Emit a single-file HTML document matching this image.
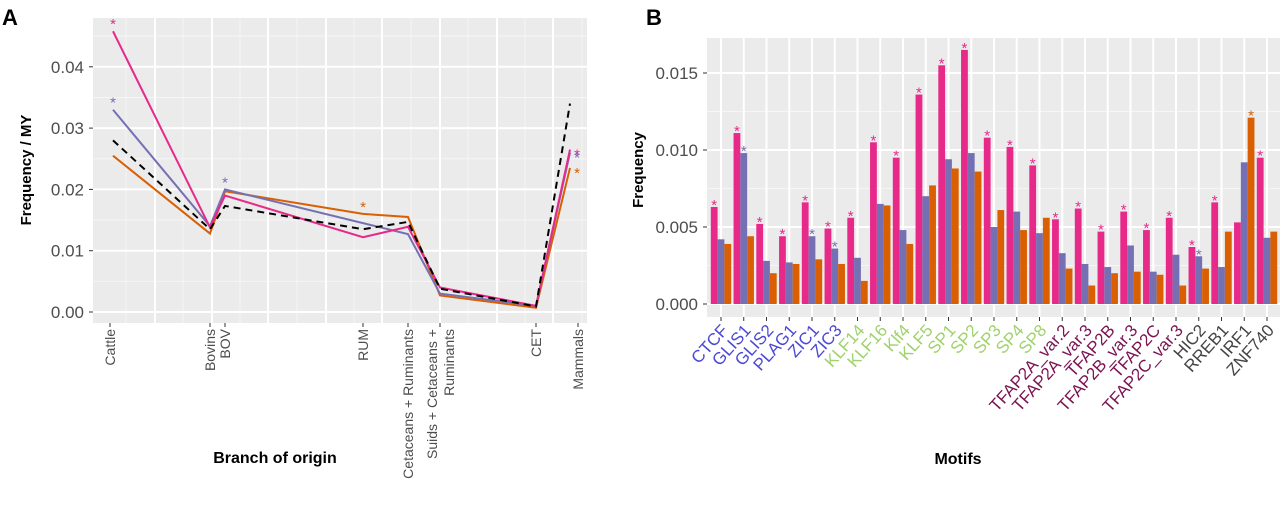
<!DOCTYPE html>
<html><head><meta charset="utf-8"><style>
body{margin:0;background:#fff;width:1280px;height:509px;overflow:hidden}
svg{display:block;font-family:"Liberation Sans",sans-serif}
</style></head><body>
<svg id="s" width="1280" height="509">
<text x="2" y="25" font-size="22" font-weight="bold">A</text>
<text x="646" y="25" font-size="22" font-weight="bold">B</text>
</svg>
<script>
// ---------- Panel A data ----------
const branches=["Cattle","Bovins","BOV","RUM","Cetaceans + Ruminants","Suids + Cetaceans + Ruminants","CET","Mammals"];
const pinkA=[0.0458,0.0138,0.0190,0.0122,0.0139,0.0040,0.0010,0.0265];
const blueA=[0.0330,0.0140,0.0200,0.0145,0.0127,0.0030,0.0010,0.0260];
const orangeA=[0.0255,0.0128,0.0197,0.0160,0.0155,0.0027,0.0007,0.0235];
const blackA=[0.0280,0.0135,0.0173,0.0135,0.0147,0.0038,0.0009,0.0340];
const yTicksA=[0,0.01,0.02,0.03,0.04];
const starsA=[{s:"pink",i:0},{s:"blue",i:0},{s:"blue",i:2},{s:"orange",i:3},{s:"pink",i:7},{s:"blue",i:7},{s:"orange",i:7}];
// ---------- Panel B data ----------
const motifs=["CTCF","GLIS1","GLIS2","PLAG1","ZIC1","ZIC3","KLF14","KLF16","Klf4","KLF5","SP1","SP2","SP3","SP4","SP8","TFAP2A_var.2","TFAP2A_var.3","TFAP2B","TFAP2B_var.3","TFAP2C","TFAP2C_var.3","HIC2","RREB1","IRF1","ZNF740"];
const pinkB=[0.0063,0.0111,0.0052,0.0044,0.0066,0.0049,0.0056,0.0105,0.0095,0.0136,0.0155,0.0165,0.0108,0.0102,0.0090,0.0055,0.0062,0.0047,0.0060,0.0048,0.0056,0.0037,0.0066,0.0053,0.0095];
const blueB=[0.0042,0.0098,0.0028,0.0027,0.0044,0.0036,0.0030,0.0065,0.0048,0.0070,0.0094,0.0098,0.0050,0.0060,0.0046,0.0033,0.0026,0.0024,0.0038,0.0021,0.0032,0.0031,0.0024,0.0092,0.0043];
const orangeB=[0.0039,0.0044,0.0020,0.0026,0.0029,0.0026,0.0015,0.0064,0.0039,0.0077,0.0088,0.0086,0.0061,0.0048,0.0056,0.0023,0.0012,0.0020,0.0021,0.0019,0.0012,0.0023,0.0047,0.0121,0.0047];
const pinkStarB=[1,1,1,1,1,1,1,1,1,1,1,1,1,1,1,1,1,1,1,1,1,1,1,0,1];
const blueStarB=[0,1,0,0,1,1,0,0,0,0,0,0,0,0,0,0,0,0,0,0,0,1,0,0,0];
const orangeStarB=[0,0,0,0,0,0,0,0,0,0,0,0,0,0,0,0,0,0,0,0,0,0,0,1,0];
const motifGroups=[0,0,0,0,0,0,1,1,1,1,1,1,1,1,1,2,2,2,2,2,2,3,3,3,3];
const yTicksB=[0,0.005,0.010,0.015];

const C={pink:"#e7298a",blue:"#7570b3",orange:"#d95f02"};
const groupCol=["#4b48d6","#9fd26a","#7b1352","#444444"];
const svg=document.getElementById('s');
const NS="http://www.w3.org/2000/svg";
function mk(tag,attrs,parent){const e=document.createElementNS(NS,tag);for(const k in attrs)e.setAttribute(k,attrs[k]);(parent||svg).appendChild(e);return e;}

// ===== Panel A =====
const aL=93,aR=587,aT=18,aB=323;
const bx=[113,210,225,363,408,440,536,570];
const btick=[110,210,225,363,408,440,536,578];
const ya=v=>312-v*6130;
const xa=i=>bx[i];
const gA=mk('g',{});


const bgA=mk('rect',{x:aL,y:aT,width:aR-aL,height:aB-aT,fill:"#ebebeb"},gA);


for(let v=0.005;v<0.05;v+=0.01){const y=ya(v);if(y>aT)mk('line',{x1:aL,x2:aR,y1:y,y2:y,stroke:"#f6f6f6","stroke-width":1},gA);}
[126,183,240,297,354,411,468,525,582].forEach(x=>mk('line',{x1:x,x2:x,y1:aT,y2:aB,stroke:"#f6f6f6","stroke-width":1},gA));
[155,212,268,326,382,440,497,553].forEach(x=>mk('line',{x1:x,x2:x,y1:aT,y2:aB,stroke:"#fff","stroke-width":2},gA));
yTicksA.forEach(v=>{const y=ya(v);
 mk('line',{x1:aL,x2:aR,y1:y,y2:y,stroke:"#fff","stroke-width":2},gA);
 mk('line',{x1:aL-4,x2:aL,y1:y,y2:y,stroke:"#333","stroke-width":1},gA);
 const t=mk('text',{x:aL-9,y:y+6,"text-anchor":"end","font-size":17,fill:"#4d4d4d"},gA);t.textContent=v.toFixed(2);
 
 
});
branches.forEach((b,i)=>{const x=btick[i];
 mk('line',{x1:x,x2:x,y1:aB,y2:aB+4,stroke:"#333"},gA);
 if(i===5){
  const t1=mk('text',{transform:`translate(${x-3},${aB+6}) rotate(-90)`,"text-anchor":"end","font-size":14,fill:"#4d4d4d"},gA);t1.textContent="Suids + Cetaceans +";
  
  
  const t2=mk('text',{transform:`translate(${x+14},${aB+6}) rotate(-90)`,"text-anchor":"end","font-size":14,fill:"#4d4d4d"},gA);t2.textContent="Ruminants";
  
  
 } else {
  const t=mk('text',{transform:`translate(${x+5},${aB+6}) rotate(-90)`,"text-anchor":"end","font-size":14,fill:"#4d4d4d"},gA);t.textContent=b;
  
  
 }
});
function line(arr,col,name,dash){const p=mk('polyline',{points:arr.map((v,i)=>xa(i)+","+ya(v)).join(" "),fill:"none",stroke:col,"stroke-width":2,"stroke-dasharray":dash||"none"},gA);
 
 }
line(orangeA,C.orange,'line-orange');
line(blueA,C.blue,'line-blue');
line(pinkA,C.pink,'line-pink');
line(blackA,"#000",'line-black-dashed','7,5');
const seriesA={pink:pinkA,blue:blueA,orange:orangeA};
starsA.forEach(s=>{const i=s.i;let x=xa(i),y=ya(seriesA[s.s][i])-8;
 if(i===7){x=577;y=ya(seriesA[s.s][i])+4;}
 const t=mk('text',{x:x,y:y+6,"text-anchor":"middle","font-size":15,fill:C[s.s]},gA);t.textContent="*";
 
 });
const tA=mk('text',{transform:"translate(31,170) rotate(-90)","text-anchor":"middle","font-size":15,"font-weight":"bold"},gA);tA.textContent="Frequency / MY";


const xA=mk('text',{x:275,y:463,"text-anchor":"middle","font-size":16,"font-weight":"bold"},gA);xA.textContent="Branch of origin";



// ===== Panel B =====
const bL=707,bR=1280,bT=38,bB=317;
const yb=v=>304-v*15400;
const xb=i=>721+i*22.75;
const gB=mk('g',{});


const bgB=mk('rect',{x:bL,y:bT,width:bR-bL,height:bB-bT,fill:"#ebebeb"},gB);


[0.0025,0.0075,0.0125].forEach(v=>{const y=yb(v);mk('line',{x1:bL,x2:bR,y1:y,y2:y,stroke:"#f6f6f6","stroke-width":1},gB);});
motifs.forEach((m,i)=>mk('line',{x1:xb(i),x2:xb(i),y1:bT,y2:bB,stroke:"#fff","stroke-width":2},gB));
yTicksB.forEach(v=>{const y=yb(v);
 mk('line',{x1:bL,x2:bR,y1:y,y2:y,stroke:"#fff","stroke-width":2},gB);
 mk('line',{x1:bL-4,x2:bL,y1:y,y2:y,stroke:"#333"},gB);
 const t=mk('text',{x:bL-9,y:y+6,"text-anchor":"end","font-size":17,fill:"#4d4d4d"},gB);t.textContent=v.toFixed(3);
 
 });
const bw=6.8;
const seriesB=[[pinkB,C.pink,pinkStarB,'bar-pink'],[blueB,C.blue,blueStarB,'bar-blue'],[orangeB,C.orange,orangeStarB,'bar-orange']];
motifs.forEach((m,i)=>{
 seriesB.forEach((s,k)=>{const v=s[0][i];const x=xb(i)+(k-1.5)*bw;
  const r=mk('rect',{x:x,y:yb(v),width:bw,height:yb(0)-yb(v),fill:s[1]},gB);
  
  
  if(s[2][i]){const t=mk('text',{x:x+bw/2,y:yb(v)+3,"text-anchor":"middle","font-size":15,fill:s[1]},gB);t.textContent="*";
   
   }
 });
 mk('line',{x1:xb(i),x2:xb(i),y1:bB,y2:bB+4,stroke:"#333"},gB);
 const t=mk('text',{transform:`translate(${xb(i)+8},${bB+14}) rotate(-48)`,"text-anchor":"end","font-size":17,fill:groupCol[motifGroups[i]]},gB);t.textContent=m;
 
 
});
const tB=mk('text',{transform:"translate(643,170) rotate(-90)","text-anchor":"middle","font-size":15,"font-weight":"bold"},gB);tB.textContent="Frequency";


const xB=mk('text',{x:958,y:464,"text-anchor":"middle","font-size":16,"font-weight":"bold"},gB);xB.textContent="Motifs";


</script>
</body></html>
